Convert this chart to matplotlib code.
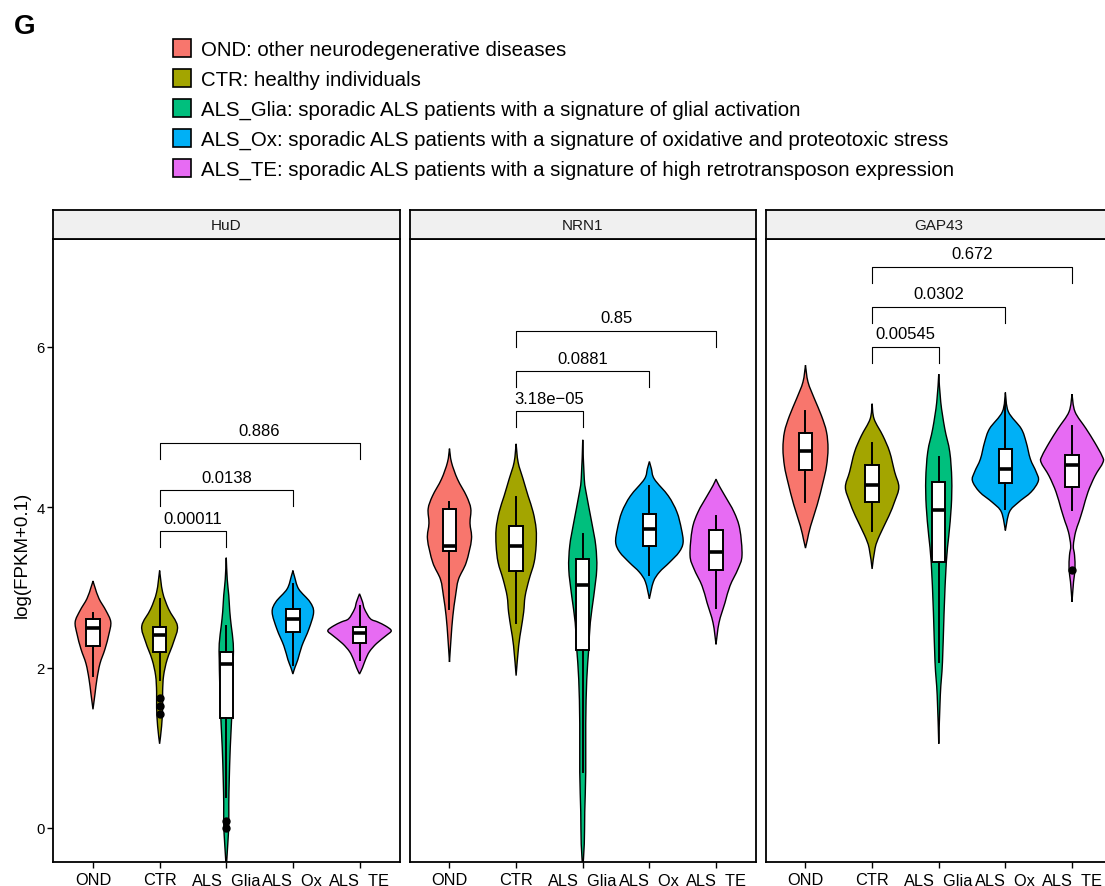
import numpy as np
import matplotlib.pyplot as plt
from matplotlib.path import Path
from matplotlib.patches import PathPatch, Patch

plt.rcParams['font.family'] = ['Liberation Sans', 'DejaVu Sans']

groups = ['OND', 'CTR', 'ALS_Glia', 'ALS_Ox', 'ALS_TE']
group_desc = [
    'OND: other neurodegenerative diseases',
    'CTR: healthy individuals',
    'ALS_Glia: sporadic ALS patients with a signature of glial activation',
    'ALS_Ox: sporadic ALS patients with a signature of oxidative and proteotoxic stress',
    'ALS_TE: sporadic ALS patients with a signature of high retrotransposon expression',
]
colors = ['#F8766D', '#A3A500', '#00BF7D', '#00B0F6', '#E76BF3']
genes = ['HuD', 'NRN1', 'GAP43']

# violin outlines: log expression levels and density half-widths (category units)
hud_y = [
    [3.08, 3.0, 2.86, 2.71, 2.57, 2.42, 2.23, 2.05, 1.86, 1.67, 1.48],
    [3.21, 2.94, 2.73, 2.52, 2.32, 2.1, 1.9, 1.7, 1.5, 1.27, 1.05],
    [3.37, 3.1, 2.9, 2.7, 2.52, 2.3, 2.1, 1.8, 1.4, 1.0, 0.6, 0.3, 0.05, -0.2, -0.5],
    [3.21, 3.14, 2.98, 2.82, 2.69, 2.48, 2.27, 2.1, 2.0, 1.92],
    [2.92, 2.82, 2.73, 2.61, 2.57, 2.52, 2.46, 2.4, 2.3, 2.2, 2.1, 2.0, 1.92],
]
hud_w = [
    [0, .03, .09, .195, .267, .24, .18, .105, .06, .03, 0],
    [0, .045, .135, .267, .21, .113, .06, .045, .045, .03, 0],
    [0, .015, .038, .053, .075, .105, .105, .098, .083, .06, .045, .038, .038, .023, 0],
    [0, .023, .087, .255, .311, .24, .135, .075, .03, 0],
    [0, .045, .075, .162, .27, .39, .476, .401, .255, .15, .09, .045, 0],
]
nrn1_y = [
    [4.73, 4.56, 4.35, 4.14, 3.98, 3.8, 3.6, 3.31, 3.1, 2.89, 2.64, 2.36, 2.07],
    [4.79, 4.56, 4.35, 4.14, 3.94, 3.73, 3.52, 3.31, 3.1, 2.89, 2.69, 2.48, 2.27, 1.9],
    [4.84, 4.35, 4.14, 3.81, 3.52, 3.23, 2.89, 2.56, 2.23, 1.85, 1.3, 0.7, 0.2, -0.2, -0.5],
    [4.57, 4.48, 4.35, 4.14, 3.94, 3.73, 3.56, 3.44, 3.31, 3.19, 3.07, 2.86],
    [4.35, 4.27, 4.14, 3.94, 3.73, 3.4, 3.23, 3.02, 2.81, 2.56, 2.29],
]
nrn1_w = [
    [0, .03, .12, .255, .32, .308, .33, .251, .135, .09, .05, .023, 0],
    [0, .03, .105, .18, .255, .3, .3, .27, .195, .135, .113, .075, .038, 0],
    [0, .023, .06, .135, .195, .21, .165, .113, .09, .06, .045, .045, .03, .023, 0],
    [0, .03, .075, .285, .413, .48, .506, .446, .3, .15, .06, 0],
    [0, .045, .135, .27, .356, .39, .33, .21, .135, .045, 0],
]
gap43_y = [
    [5.77, 5.56, 5.35, 5.14, 4.94, 4.73, 4.51, 4.31, 4.03, 3.76, 3.6, 3.49],
    [5.29, 5.1, 4.89, 4.69, 4.44, 4.25, 4.07, 3.89, 3.65, 3.49, 3.23],
    [5.66, 5.31, 4.98, 4.69, 4.35, 4.01, 3.64, 3.31, 2.69, 2.07, 1.65, 1.05],
    [5.43, 5.19, 4.98, 4.81, 4.6, 4.44, 4.33, 4.19, 4.06, 3.94, 3.71],
    [5.41, 5.19, 4.98, 4.81, 4.64, 4.56, 4.39, 4.19, 3.98, 3.82, 3.69, 3.52, 3.4, 3.23, 3.07, 2.82],
]
gap43_w = [
    [0, .038, .135, .24, .315, .338, .315, .263, .176, .075, .03, 0],
    [0, .03, .162, .263, .338, .401, .338, .251, .113, .045, 0],
    [0, .03, .09, .165, .195, .188, .15, .113, .08, .056, .023, 0],
    [0, .045, .237, .312, .375, .462, .495, .387, .195, .06, 0],
    [0, .045, .21, .338, .45, .465, .345, .24, .165, .105, .053, .02, .038, .045, .023, 0],
]

# box summaries: whisker low, q1, median, q3, whisker high
hud_box = [[1.89, 2.27, 2.49, 2.61, 2.68], [1.84, 2.19, 2.41, 2.5, 2.85],
           [0.39, 1.37, 2.05, 2.2, 2.52], [2.03, 2.45, 2.6, 2.73, 3.04],
           [2.1, 2.31, 2.43, 2.5, 2.77]]
nrn1_box = [[2.73, 3.45, 3.51, 3.98, 4.07], [2.56, 3.2, 3.51, 3.76, 4.13],
            [0.7, 2.22, 3.03, 3.35, 3.67], [3.15, 3.51, 3.73, 3.92, 4.27],
            [2.74, 3.22, 3.44, 3.71, 3.89]]
gap43_box = [[4.06, 4.46, 4.7, 4.93, 5.2], [3.7, 4.07, 4.28, 4.53, 4.8],
             [2.07, 3.32, 3.97, 4.31, 4.62], [3.98, 4.3, 4.48, 4.72, 5.31],
             [3.97, 4.25, 4.52, 4.65, 5.01]]
hud_out = [[], [1.62, 1.52, 1.42], [0.09, 0.0], [], []]
nrn1_out = [[], [], [], [], []]
gap43_out = [[], [], [], [], [3.22]]

# CTR vs ALS subgroup comparisons
comparisons = [(2, 3), (2, 4), (2, 5)]
hud_brk_y = [3.7, 4.21, 4.8]
hud_pvals = ['0.00011', '0.0138', '0.886']
nrn1_brk_y = [5.2, 5.7, 6.2]
nrn1_pvals = ['3.18e\u221205', '0.0881', '0.85']
gap43_brk_y = [6.0, 6.5, 7.0]
gap43_pvals = ['0.00545', '0.0302', '0.672']

panels = [
    (hud_y, hud_w, hud_box, hud_out, hud_brk_y, hud_pvals),
    (nrn1_y, nrn1_w, nrn1_box, nrn1_out, nrn1_brk_y, nrn1_pvals),
    (gap43_y, gap43_w, gap43_box, gap43_out, gap43_brk_y, gap43_pvals),
]


def side_curve(pts):
    # Catmull-Rom through the outline points, as cubic Bezier segments
    n = len(pts)
    verts = []
    for i in range(n - 1):
        p0, p1 = pts[max(i - 1, 0)], pts[i]
        p2, p3 = pts[i + 1], pts[min(i + 2, n - 1)]
        verts += [p1 + (p2 - p0) / 6, p2 - (p3 - p1) / 6, p2]
    return verts


def violin(ax, x, ys, ws, color):
    order = np.argsort(ys)
    ys = np.asarray(ys, float)[order]
    ws = np.asarray(ws, float)[order]
    right = np.column_stack([x + ws, ys])
    left = np.column_stack([x - ws, ys])[::-1]
    verts = [right[0]] + side_curve(right) + side_curve(left) + [right[0]]
    codes = [Path.MOVETO] + [Path.CURVE4] * (len(verts) - 2) + [Path.CLOSEPOLY]
    ax.add_patch(PathPatch(Path(verts, codes), facecolor=color, edgecolor='black',
                           lw=1.0, zorder=2))


W, H = 1105, 887
fig = plt.figure(figsize=(W / 100, H / 100), dpi=100)
lefts = [53, 409.5, 765.5]
pw = 346.5
top, bottom, strip_top = 240, 863, 211
pos = np.arange(1, 6)

for k, (gene, (ys, ws, box, out, by, pv)) in enumerate(zip(genes, panels)):
    ax = fig.add_axes([lefts[k] / W, (H - bottom) / H, pw / W, (bottom - top) / H])
    for i in range(5):
        violin(ax, pos[i], ys[i], ws[i], colors[i])
    stats = [dict(whislo=b[0], q1=b[1], med=b[2], q3=b[3], whishi=b[4], fliers=o)
             for b, o in zip(box, out)]
    ax.bxp(stats, positions=pos, widths=0.2, patch_artist=True, showcaps=False,
           boxprops=dict(facecolor='white', edgecolor='black', linewidth=1.4),
           medianprops=dict(color='black', linewidth=2.6),
           whiskerprops=dict(color='black', linewidth=1.4),
           flierprops=dict(marker='o', markerfacecolor='black', markeredgecolor='black',
                           markersize=5),
           zorder=3)
    for (a, b), yb, p in zip(comparisons, by, pv):
        ax.plot([a, a, b, b], [yb - 0.2, yb, yb, yb - 0.2], color='black', lw=0.8, zorder=4)
        ax.text((a + b) / 2, yb + 0.16, p, ha='center', va='center', fontsize=12)
    ax.set_xlim(0.4, 5.6)
    ax.set_ylim(-0.424, 7.344)
    ax.set_xticks(pos, groups, fontsize=11.8)
    ax.tick_params(axis='x', length=4, width=1, pad=3.5)
    if k == 0:
        ax.set_yticks([0, 2, 4, 6])
        ax.tick_params(axis='y', length=4, width=1, labelsize=10.7, pad=2)
    else:
        ax.set_yticks([])
    for s in ax.spines.values():
        s.set_linewidth(1.3)

    sx = fig.add_axes([lefts[k] / W, (H - top) / H, pw / W, (top - strip_top) / H])
    sx.set_facecolor('#F0F0F0')
    sx.set_xticks([])
    sx.set_yticks([])
    for s in sx.spines.values():
        s.set_linewidth(1.3)
    sx.text(0.5, 0.5, gene, ha='center', va='center', fontsize=11, color='#1A1A1A',
            transform=sx.transAxes)

fig.text(22 / W, 1 - 555 / H, 'log(FPKM+0.1)', rotation=90, ha='center', va='center',
         fontsize=13.5)
fig.text(14 / W, 1 - 27 / H, 'G', fontsize=20, fontweight='bold', ha='left', va='center')

handles = [Patch(facecolor=c, edgecolor='black', lw=1.2) for c in colors]
fig.legend(handles, group_desc, loc='upper left', bbox_to_anchor=(173 / W, 1 - 40 / H),
           frameon=False, fontsize=14.7, handlelength=0.88, handleheight=0.98,
           handletextpad=0.5, labelspacing=0.48, borderpad=0, borderaxespad=0)

fig.savefig('out.png', dpi=100)
